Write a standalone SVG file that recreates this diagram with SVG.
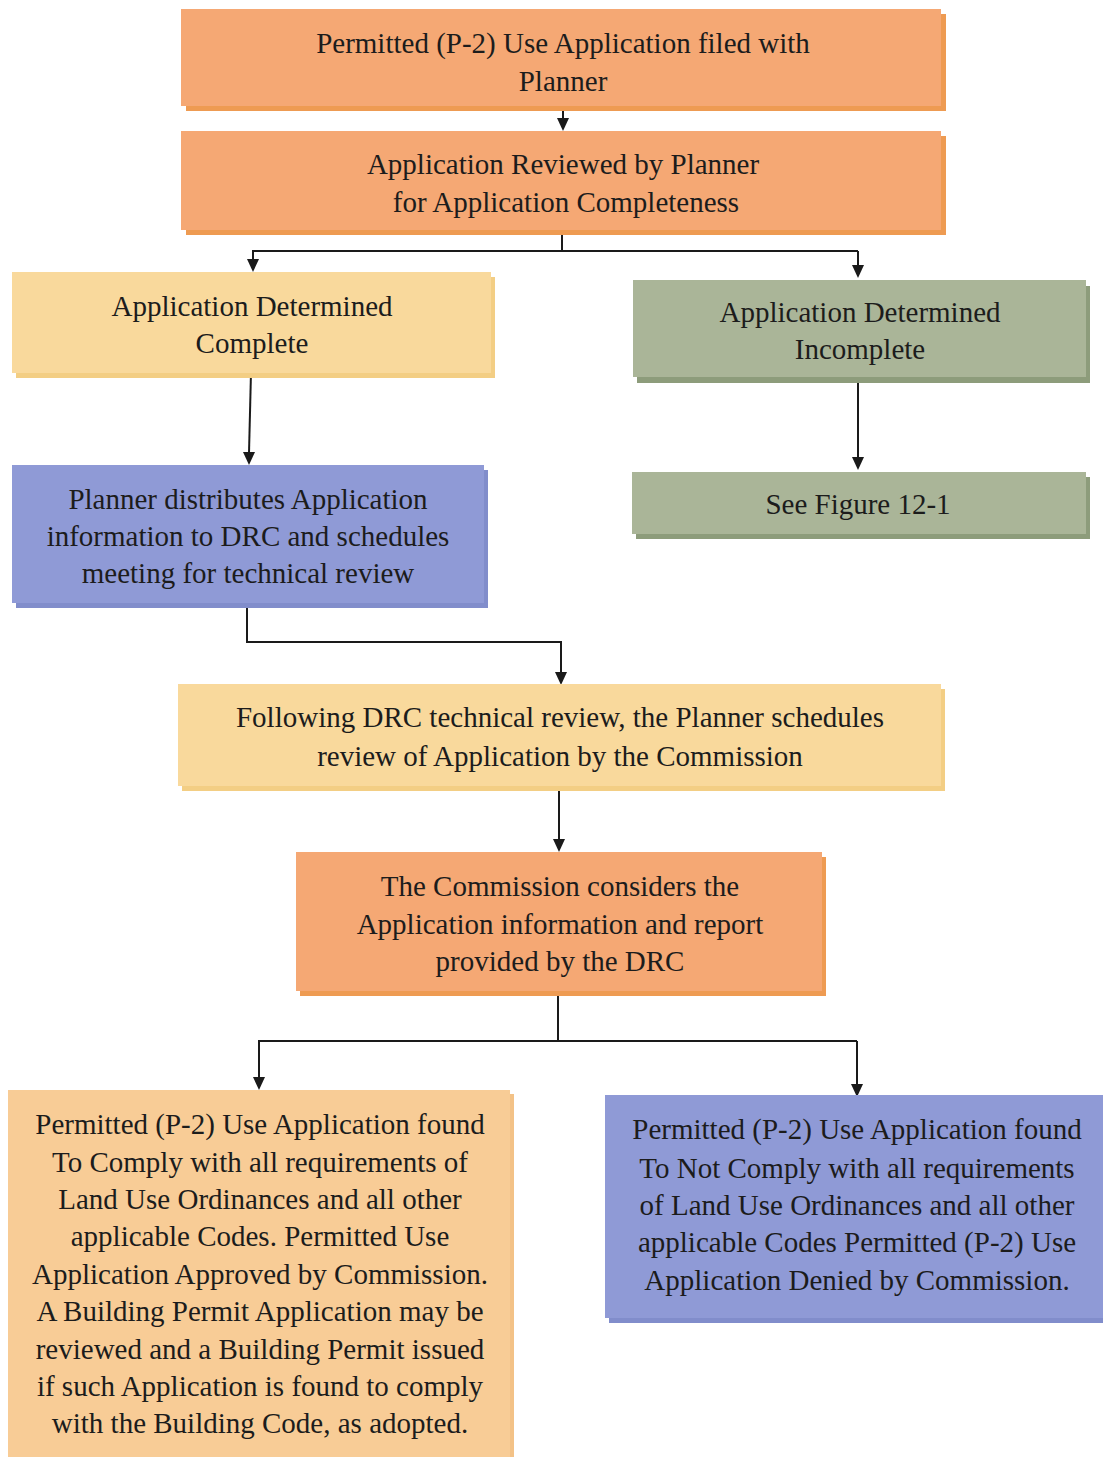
<svg xmlns="http://www.w3.org/2000/svg" width="1103" height="1457" viewBox="0 0 1103 1457">
<defs>
<style>
.t{font-family:"Liberation Serif","Times New Roman",serif;font-size:29px;fill:#1c1c1c;text-anchor:middle}
.c{fill:none;stroke:#1a1a1a;stroke-width:2}
.or{fill:#F5A874}.ors{fill:#EE9B52}
.ye{fill:#F9D99C}.yes{fill:#F3CE84}
.gr{fill:#AAB598}.grs{fill:#8D9C7B}
.bl{fill:#8F9AD6}.bls{fill:#818DCB}
.lo{fill:#F8CC96}.los{fill:#F3C287}
.ah{fill:#1a1a1a}
</style>
</defs>
<rect width="1103" height="1457" fill="#ffffff"/>

<g id="connectors">
<path class="c" d="M563,110 V119"/>
<path class="ah" d="M557,118 L569,118 L563,131 Z"/>
<path class="c" d="M562,231 V251 M253,251 H858 M253,250 V260 M858,251 V266"/>
<path class="ah" d="M247,259 L259,259 L253,272 Z"/>
<path class="ah" d="M852,265 L864,265 L858,278 Z"/>
<path class="c" d="M251,372 L249,453"/>
<path class="ah" d="M243,452 L255,452 L249,465 Z"/>
<path class="c" d="M858,378 V458"/>
<path class="ah" d="M852,457 L864,457 L858,470 Z"/>
<path class="c" d="M247,605 V642 H561 V673"/>
<path class="ah" d="M555,672 L567,672 L561,685 Z"/>
<path class="c" d="M559,783 V840"/>
<path class="ah" d="M553,839 L565,839 L559,852 Z"/>
<path class="c" d="M558,995 V1041 M259,1041 H857 M259,1040 V1078 M857,1041 V1085"/>
<path class="ah" d="M253,1077 L265,1077 L259,1090 Z"/>
<path class="ah" d="M851,1084 L863,1084 L857,1097 Z"/>
</g>

<g id="n1">
<rect class="ors" x="186" y="14" width="760" height="97"/>
<rect class="or" x="181" y="9" width="760" height="97"/>
<text class="t" x="563" y="53">Permitted (P-2) Use Application filed with</text>
<text class="t" x="563" y="91">Planner</text>
</g>

<g id="n2">
<rect class="ors" x="186" y="136" width="760" height="99"/>
<rect class="or" x="181" y="131" width="760" height="99"/>
<text class="t" x="563" y="174">Application Reviewed by Planner</text>
<text class="t" x="566" y="212">for Application Completeness</text>
</g>

<g id="n3">
<rect class="yes" x="16" y="277" width="479" height="101"/>
<rect class="ye" x="12" y="272" width="479" height="101"/>
<text class="t" x="252" y="316">Application Determined</text>
<text class="t" x="252" y="353">Complete</text>
</g>

<g id="n4">
<rect class="grs" x="637" y="286" width="453" height="97"/>
<rect class="gr" x="633" y="280" width="453" height="97"/>
<text class="t" x="860" y="322">Application Determined</text>
<text class="t" x="860" y="359">Incomplete</text>
</g>

<g id="n5">
<rect class="bls" x="16" y="470" width="472" height="138"/>
<rect class="bl" x="12" y="465" width="472" height="138"/>
<text class="t" x="248" y="509">Planner distributes Application</text>
<text class="t" x="248" y="546">information to DRC and schedules</text>
<text class="t" x="248" y="583">meeting for technical review</text>
</g>

<g id="n6">
<rect class="grs" x="636" y="477" width="454" height="62"/>
<rect class="gr" x="632" y="472" width="454" height="62"/>
<text class="t" x="858" y="514">See Figure 12-1</text>
</g>

<g id="n7">
<rect class="yes" x="182" y="689" width="763" height="102"/>
<rect class="ye" x="178" y="684" width="763" height="102"/>
<text class="t" x="560" y="727">Following DRC technical review, the Planner schedules</text>
<text class="t" x="560" y="766">review of Application by the Commission</text>
</g>

<g id="n8">
<rect class="ors" x="300" y="857" width="526" height="139"/>
<rect class="or" x="296" y="852" width="526" height="139"/>
<text class="t" x="560" y="896">The Commission considers the</text>
<text class="t" x="560" y="934">Application information and report</text>
<text class="t" x="560" y="971">provided by the DRC</text>
</g>

<g id="n9">
<rect class="los" x="12" y="1094" width="502" height="370"/>
<rect class="lo" x="8" y="1090" width="502" height="370"/>
<text class="t" x="260" y="1134">Permitted (P-2) Use Application found</text>
<text class="t" x="260" y="1172">To Comply with all requirements of</text>
<text class="t" x="260" y="1209">Land Use Ordinances and all other</text>
<text class="t" x="260" y="1246">applicable Codes. Permitted Use</text>
<text class="t" x="260" y="1284">Application Approved by Commission.</text>
<text class="t" x="260" y="1321">A Building Permit Application may be</text>
<text class="t" x="260" y="1359">reviewed and a Building Permit issued</text>
<text class="t" x="260" y="1396">if such Application is found to comply</text>
<text class="t" x="260" y="1433">with the Building Code, as adopted.</text>
</g>

<g id="n10">
<rect class="bls" x="609" y="1100" width="494" height="223"/>
<rect class="bl" x="605" y="1095" width="498" height="223"/>
<text class="t" x="857" y="1139">Permitted (P-2) Use Application found</text>
<text class="t" x="857" y="1178">To Not Comply with all requirements</text>
<text class="t" x="857" y="1215">of Land Use Ordinances and all other</text>
<text class="t" x="857" y="1252">applicable Codes Permitted (P-2) Use</text>
<text class="t" x="857" y="1290">Application Denied by Commission.</text>
</g>
</svg>
